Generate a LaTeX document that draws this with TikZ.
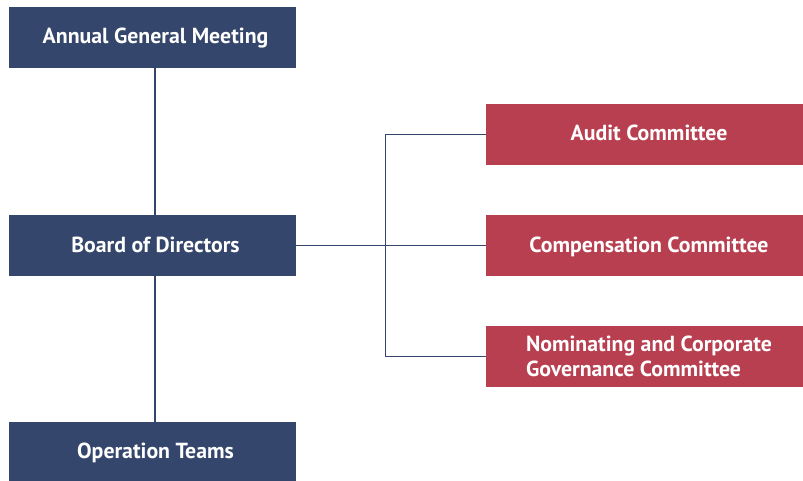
\documentclass[tikz,border=0pt]{standalone}
\usepackage{fontspec}
\setmainfont{PT Sans}
\definecolor{navy}{HTML}{34466B}
\definecolor{crimson}{HTML}{B73F50}
\newcommand{\nsh}{\hspace*{6pt}}
\newcommand{\rsh}{\hspace*{9pt}}
\begin{document}
\begin{tikzpicture}[x=1pt,y=-1pt,
  boxtext/.style={text=white,font=\bfseries\fontsize{21.8}{25}\selectfont,inner sep=0pt,text height=17pt,text depth=4pt},
  navybox/.style={boxtext,fill=navy,minimum width=287pt,minimum height=61pt,align=center},
  redbox/.style={boxtext,fill=crimson,minimum width=317pt,minimum height=61pt,align=center},
  conn/.style={draw=navy,line width=1.5pt}]
\useasboundingbox (0,0) rectangle (803,481);
\node[navybox] (agm) at (152.5,37.5) {\nsh Annual General Meeting};
\node[navybox] (bod) at (152.5,245.5) {\nsh Board of Directors};
\node[navybox,minimum height=59pt] (ops) at (152.5,451.5) {\nsh Operation Teams};
\node[redbox] (audit) at (644.5,134.5) {\rsh Audit Committee};
\node[redbox] (comp) at (644.5,245.5) {\rsh Compensation Committee};
\node[redbox,align=left,text height=,text depth=] (nom) at (644.5,356.5) {\rsh Nominating and Corporate\\\rsh Governance Committee};
\coordinate (j) at (385.5,245.5);
\draw[conn] ([xshift=2.5pt]agm.south) -- ([xshift=2.5pt]bod.north);
\draw[conn] ([xshift=2.5pt]bod.south) -- ([xshift=2.5pt]ops.north);
\draw[conn] (bod.east) -- (comp.west);
\draw[conn] (audit.west) -| (j) |- (nom.west);
\end{tikzpicture}
\end{document}
